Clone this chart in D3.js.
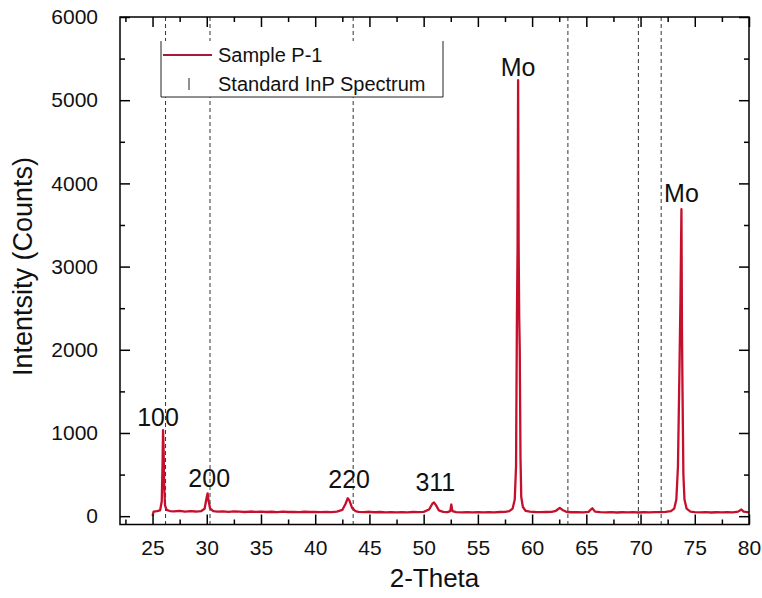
<!DOCTYPE html>
<html>
<head>
<meta charset="utf-8">
<script src="https://cdn.jsdelivr.net/npm/d3@7"></script>
<style>
  html, body { margin: 0; padding: 0; background: #fff; }
  svg { display: block; }
  text { font-family: "Liberation Sans", Arial, sans-serif; fill: #111; }
</style>
</head>
<body>
<svg id="chart" width="762" height="598"></svg>
<script>
// XRD scan of sample P-1 (2-theta in degrees, intensity in counts)
const twoTheta = [
  25.0, 25.1, 25.4, 25.7, 25.85, 25.92, 25.97, 26.02, 26.08, 26.15, 26.3, 26.6,
  27.0, 27.5, 28.0, 28.5, 29.0, 29.5, 29.8, 30.0, 30.08, 30.15, 30.3, 30.6,
  31.0, 31.5, 32.0, 32.5, 33.0, 33.5, 34.0, 34.5, 35.0, 35.5, 36.0, 36.5,
  37.0, 37.5, 38.0, 38.5, 39.0, 39.5, 40.0, 40.5, 41.0, 41.5, 42.0, 42.5,
  42.8, 43.0, 43.15, 43.4, 43.7, 44.0, 44.5, 45.0, 45.5, 46.0, 46.5, 47.0,
  47.5, 48.0, 48.5, 49.0, 49.5, 50.0, 50.5, 50.8, 50.95, 51.15, 51.4, 51.8,
  52.2, 52.45, 52.55, 52.65, 53.0, 53.5, 54.0, 54.5, 55.0, 55.5, 56.0, 56.5,
  57.0, 57.5, 57.9, 58.2, 58.4, 58.52, 58.6, 58.66, 58.71, 58.76, 58.81, 58.86,
  58.93, 59.0, 59.15, 59.4, 59.8, 60.3, 60.8, 61.3, 61.8, 62.2, 62.55, 62.8,
  63.2, 63.7, 64.2, 64.7, 65.2, 65.55, 65.8, 66.3, 66.8, 67.3, 67.8, 68.3,
  68.8, 69.3, 69.8, 70.3, 70.8, 71.3, 71.8, 72.3, 72.8, 73.1, 73.3, 73.45,
  73.58, 73.68, 73.77, 73.82, 73.87, 73.95, 74.05, 74.25, 74.6, 75.0, 75.5, 76.0,
  76.5, 77.0, 77.5, 78.0, 78.5, 79.0, 79.3, 79.5, 80.0
];
const counts = [
  5, 55, 62, 70, 180, 600, 1035, 820, 350, 130, 75, 62,
  58, 64, 55, 60, 56, 62, 90, 230, 275, 200, 95, 60,
  55, 58, 52, 57, 54, 50, 56, 52, 55, 50, 53, 49,
  54, 50, 52, 48, 53, 50, 51, 48, 52, 49, 55, 75,
  150, 215, 190, 100, 62, 52, 49, 53, 47, 50, 46, 49,
  45, 48, 46, 50, 48, 52, 80, 150, 165, 130, 70, 52,
  48, 60, 140, 60, 48, 45, 48, 46, 49, 45, 48, 46,
  50, 52, 60, 90, 200, 600, 2400, 3230, 5240, 3230, 2400, 2020,
  700, 230, 110, 65, 55, 50, 48, 50, 52, 65, 100, 75,
  50, 47, 49, 46, 52, 95, 55, 48, 45, 48, 44, 47,
  45, 48, 44, 47, 45, 49, 48, 52, 60, 90, 200, 600,
  1700, 2600, 3690, 2210, 1500, 500, 200, 90, 55, 48, 45, 48,
  44, 47, 45, 48, 46, 55, 80, 55, 45
];

// Reference line positions of the standard InP pattern
const standardLines = [26.2, 30.3, 43.5, 63.3, 69.8, 71.9];

// Peak annotations
const peakLabels = ["100", "200", "220", "311", "Mo", "Mo"];
const peakTheta = [25.97, 30.08, 43.0, 50.95, 58.71, 73.77];
const peakCounts = [1035, 275, 215, 165, 5240, 3690];

const xTicks = [25, 30, 35, 40, 45, 50, 55, 60, 65, 70, 75, 80];
const yTicks = [0, 1000, 2000, 3000, 4000, 5000, 6000];

const legendLabels = ["Sample P-1", "Standard InP Spectrum"];

const svg = d3.select("#chart");
const plotLeft = 120, plotRight = 749, plotTop = 17, plotBottom = 524.5;
const lineColor = "#c4102c";

const x = d3.scaleLinear().domain([22, 80]).range([plotLeft, plotRight]);
const y = d3.scaleLinear().domain([-100, 6000]).range([plotBottom, plotTop]);

// Standard spectrum lines (dashed, full height)
svg.append("g").selectAll("line").data(standardLines).join("line")
  .attr("x1", d => x(d)).attr("x2", d => x(d))
  .attr("y1", plotTop).attr("y2", plotBottom)
  .attr("stroke", "#333").attr("stroke-width", 1)
  .attr("stroke-dasharray", "4,3");

// Measured pattern
const pts = twoTheta.map((t, i) => [t, counts[i]]);
svg.append("path")
  .datum(pts)
  .attr("fill", "none")
  .attr("stroke", lineColor)
  .attr("stroke-width", 2.3)
  .attr("stroke-linejoin", "round")
  .attr("d", d3.line().x(d => x(d[0])).y(d => y(d[1])));

// Peak labels, placed just above each peak
const labelDx = [-5, 1.6, 1.4, 1.4, 0, 0];
const labelDy = [4, 6, 10, 11.5, 4.5, 7];
svg.append("g").selectAll("text").data(peakLabels).join("text")
  .attr("x", (d, i) => x(peakTheta[i]) + labelDx[i])
  .attr("y", (d, i) => y(peakCounts[i]) - labelDy[i])
  .attr("text-anchor", "middle")
  .attr("font-size", 25)
  .text(d => d);

// Axes: ticks point inward on all four sides
const xMinor = d3.range(22.5, 80.01, 2.5).filter(v => !xTicks.includes(v));
const yMinor = d3.range(0, 6001, 500).filter(v => !yTicks.includes(v));

svg.append("g").attr("transform", `translate(0,${plotBottom})`)
  .call(d3.axisBottom(x).tickValues(xTicks).tickSizeInner(-10).tickSizeOuter(0).tickPadding(16));
svg.append("g").attr("transform", `translate(0,${plotTop})`)
  .call(d3.axisTop(x).tickValues(xTicks).tickSizeInner(-10).tickSizeOuter(0).tickFormat(""));
svg.append("g").attr("transform", `translate(${plotLeft},0)`)
  .call(d3.axisLeft(y).tickValues(yTicks).tickFormat(d3.format("d"))
    .tickSizeInner(-10).tickSizeOuter(0).tickPadding(22));
svg.append("g").attr("transform", `translate(${plotRight},0)`)
  .call(d3.axisRight(y).tickValues(yTicks).tickSizeInner(-10).tickSizeOuter(0).tickFormat(""));

svg.append("g").attr("transform", `translate(0,${plotBottom})`)
  .call(d3.axisBottom(x).tickValues(xMinor).tickSizeInner(-5).tickSizeOuter(0).tickFormat(""));
svg.append("g").attr("transform", `translate(0,${plotTop})`)
  .call(d3.axisTop(x).tickValues(xMinor).tickSizeInner(-5).tickSizeOuter(0).tickFormat(""));
svg.append("g").attr("transform", `translate(${plotLeft},0)`)
  .call(d3.axisLeft(y).tickValues(yMinor).tickSizeInner(-5).tickSizeOuter(0).tickFormat(""));
svg.append("g").attr("transform", `translate(${plotRight},0)`)
  .call(d3.axisRight(y).tickValues(yMinor).tickSizeInner(-5).tickSizeOuter(0).tickFormat(""));

svg.selectAll(".domain").remove();
svg.selectAll(".tick line").attr("stroke", "#000").attr("stroke-width", 1.5);
svg.selectAll(".tick text").attr("font-size", 21).attr("fill", "#111")
  .style("font-family", "'Liberation Sans', Arial, sans-serif");

// Frame
svg.append("rect")
  .attr("x", plotLeft).attr("y", plotTop)
  .attr("width", plotRight - plotLeft).attr("height", plotBottom - plotTop)
  .attr("fill", "none").attr("stroke", "#000").attr("stroke-width", 1.5);

// Legend (white box, open at the top)
const lg = svg.append("g");
lg.append("rect").attr("x", 161).attr("y", 41).attr("width", 282).attr("height", 56).attr("fill", "#fff");
lg.append("path").attr("d", "M161,41V97H443V41").attr("fill", "none").attr("stroke", "#222").attr("stroke-width", 1);
lg.append("line").attr("x1", 163).attr("x2", 212).attr("y1", 55).attr("y2", 55)
  .attr("stroke", "#a51a3a").attr("stroke-width", 2);
lg.append("line").attr("x1", 189).attr("x2", 189).attr("y1", 78).attr("y2", 90)
  .attr("stroke", "#222").attr("stroke-width", 1);
lg.selectAll("text.lab").data(legendLabels).join("text")
  .attr("class", "lab")
  .attr("x", 218).attr("y", (d, i) => 62 + i * 29)
  .attr("font-size", 20)
  .text(d => d);

// Axis titles
svg.append("text")
  .attr("x", 434.5).attr("y", 587)
  .attr("text-anchor", "middle").attr("font-size", 26)
  .text("2-Theta");
svg.append("text")
  .attr("transform", "translate(32,266.5) rotate(-90)")
  .attr("text-anchor", "middle").attr("font-size", 27)
  .text("Intentsity (Counts)");
</script>
</body>
</html>
